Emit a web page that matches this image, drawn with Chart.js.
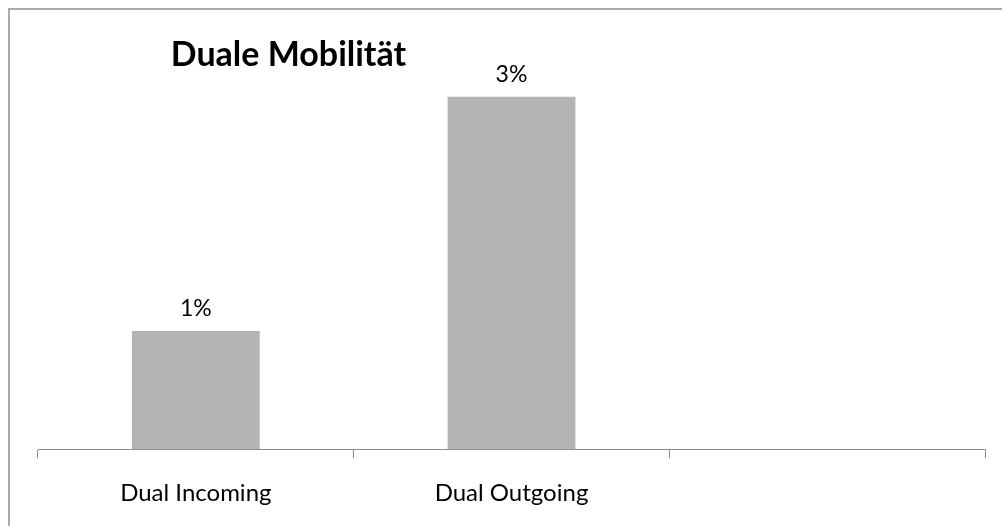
<!DOCTYPE html>
<html>
<head>
<meta charset="utf-8">
<script src="https://cdn.jsdelivr.net/npm/chart.js@4/dist/chart.umd.min.js"></script>
<style>
  html, body { margin: 0; padding: 0; background: #fff; overflow: hidden; }
  #wrap { position: relative; width: 1002px; height: 526px; overflow: hidden; }
  #frame { position: absolute; left: 8px; top: 8px; width: 1200px; height: 800px; border: 2px solid #ababab; box-sizing: border-box; }
  canvas { position: absolute; left: 0; top: 0; }
</style>
</head>
<body>
<div id="wrap">
  <div id="frame"></div>
  <canvas id="c" width="1002" height="560"></canvas>
</div>
<script>
const chartTitle = 'Duale Mobilität';
const categories = ['Dual Incoming', 'Dual Outgoing', ''];
const shareValues = [1.0, 2.98, null];

const FONT = 'Lato, "Open Sans", sans-serif';

const valueLabels = {
  id: 'valueLabels',
  afterDatasetsDraw(chart) {
    const ctx = chart.ctx;
    const meta = chart.getDatasetMeta(0);
    ctx.save();
    ctx.font = '23px ' + FONT;
    ctx.fillStyle = '#000';
    ctx.textAlign = 'center';
    ctx.textBaseline = 'alphabetic';
    meta.data.forEach((bar, i) => {
      const v = shareValues[i];
      if (v === null || v === undefined) return;
      ctx.fillText(Math.round(v) + '%', bar.x, bar.y - 15);
    });
    ctx.restore();
  }
};

const titlePlugin = {
  id: 'customTitle',
  afterDraw(chart) {
    const ctx = chart.ctx;
    const a = chart.chartArea;
    ctx.save();
    ctx.font = 'bold 34px ' + FONT;
    ctx.fillStyle = '#000';
    ctx.textAlign = 'center';
    ctx.textBaseline = 'alphabetic';
    ctx.fillText(chartTitle, a.left + (a.right - a.left) * 0.2645, 66);
    ctx.restore();
  }
};

new Chart(document.getElementById('c'), {
  type: 'bar',
  data: {
    labels: categories,
    datasets: [{
      data: shareValues,
      backgroundColor: '#b4b4b4',
      borderWidth: 0,
      categoryPercentage: 1.0,
      barPercentage: 0.405
    }]
  },
  options: {
    responsive: false,
    animation: false,
    devicePixelRatio: 1,
    layout: { padding: { left: 38, right: 17, top: 20, bottom: 31 } },
    plugins: { legend: { display: false }, tooltip: { enabled: false }, title: { display: false } },
    scales: {
      x: {
        grid: { display: true, offset: true, drawOnChartArea: false, drawTicks: true, tickLength: 9, color: '#8c8c8c', lineWidth: 1 },
        border: { display: true, color: '#8c8c8c', width: 1 },
        ticks: { color: '#000', font: { family: FONT, size: 24 }, padding: 21, maxRotation: 0 }
      },
      y: {
        display: false,
        min: 0,
        max: 3.63
      }
    }
  },
  plugins: [valueLabels, titlePlugin]
});
</script>
</body>
</html>
